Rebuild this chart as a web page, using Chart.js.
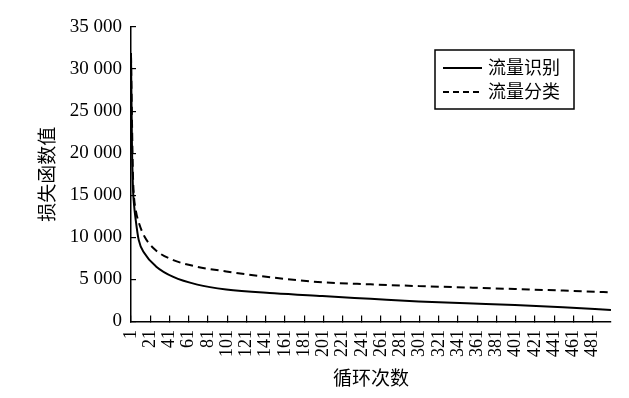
<!DOCTYPE html>
<html>
<head>
<meta charset="utf-8">
<script src="https://cdn.jsdelivr.net/npm/chart.js@4/dist/chart.umd.min.js"></script>
<style>
  html, body { margin: 0; padding: 0; background: #fff; }
  #c { display: block; }
</style>
</head>
<body>
<canvas id="c" width="629" height="398"></canvas>
<script>
const iterations = [1, 2, 3, 4, 6, 9, 15, 27, 45, 70, 100, 150, 200, 250, 300, 350, 400, 450, 500];
const lossIdentify = [31900, 21000, 16000, 14100, 12000, 9700, 8100, 6550, 5300, 4380, 3800, 3350, 3020, 2700, 2380, 2160, 1950, 1700, 1370];
const lossClassify = [31700, 24000, 17500, 15000, 13200, 11800, 10100, 8450, 7300, 6500, 5950, 5200, 4660, 4420, 4210, 4040, 3860, 3680, 3460];
const seriesNames = ["流量识别", "流量分类"];
const xTicks = [1, 21, 41, 61, 81, 101, 121, 141, 161, 181, 201, 221, 241, 261, 281, 301, 321, 341, 361, 381, 401, 421, 441, 461, 481];
const yTicks = [0, 5000, 10000, 15000, 20000, 25000, 30000, 35000];

const serif = "'Liberation Serif', 'Noto Sans CJK SC', serif";
const cjk = "'Liberation Serif', 'Noto Sans CJK SC', sans-serif";

const fmt = v => String(v).replace(/\B(?=(\d{3})+(?!\d))/g, " ");

// boxed legend, top right, like the original figure
const boxLegend = {
  id: "boxLegend",
  afterDraw(chart) {
    const ctx = chart.ctx;
    const x0 = 435, y0 = 50, w = 139, h = 59;
    ctx.save();
    ctx.strokeStyle = "#000";
    ctx.lineWidth = 1.5;
    ctx.strokeRect(x0, y0, w, h);
    chart.data.datasets.forEach((ds, i) => {
      const y = 68 + i * 24;
      ctx.beginPath();
      ctx.lineWidth = 2;
      ctx.setLineDash(i === 0 ? [] : [6, 4]);
      ctx.moveTo(443, y);
      ctx.lineTo(482, y);
      ctx.stroke();
      ctx.setLineDash([]);
      ctx.fillStyle = "#000";
      ctx.font = "18px " + cjk;
      ctx.textBaseline = "middle";
      ctx.textAlign = "left";
      ctx.fillText(ds.label, 488, y + 1);
    });
    ctx.restore();
  }
};

new Chart(document.getElementById("c"), {
  type: "line",
  data: {
    datasets: [
      {
        label: seriesNames[0],
        data: iterations.map((it, i) => ({ x: it, y: lossIdentify[i] })),
        borderColor: "#000",
        borderWidth: 2,
        pointRadius: 0,
        cubicInterpolationMode: "monotone"
      },
      {
        label: seriesNames[1],
        data: iterations.map((it, i) => ({ x: it, y: lossClassify[i] })),
        borderColor: "#000",
        borderWidth: 2,
        borderDash: [8, 5],
        pointRadius: 0,
        cubicInterpolationMode: "monotone"
      }
    ]
  },
  options: {
    responsive: false,
    animation: false,
    layout: { padding: { left: 0, right: 5, top: 27, bottom: 0 } },
    plugins: {
      legend: { display: false },
      tooltip: { enabled: false }
    },
    scales: {
      x: {
        type: "linear",
        min: 1,
        max: 500,
        afterBuildTicks: s => { s.ticks = xTicks.map(v => ({ value: v })); },
        afterFit: s => { s.height = 76.5; },
        border: { display: true, color: "#000", width: 1.5 },
        grid: { drawOnChartArea: false, color: "#000", lineWidth: 1.2, tickLength: -6 },
        ticks: {
          autoSkip: false,
          minRotation: 90,
          maxRotation: 90,
          padding: 14.5,
          color: "#000",
          font: { family: serif, size: 18 },
          callback: v => String(v)
        },
        title: {
          display: true,
          text: "循环次数",
          color: "#000",
          font: { family: cjk, size: 19 },
          padding: { top: 0, bottom: 7 }
        }
      },
      y: {
        min: 0,
        max: 35000,
        afterBuildTicks: s => { s.ticks = yTicks.map(v => ({ value: v })); },
        afterFit: s => { s.width = 131; },
        border: { display: true, color: "#000", width: 1.5 },
        grid: { drawOnChartArea: false, color: "#000", lineWidth: 1.2, tickLength: -5 },
        ticks: {
          padding: 14,
          color: "#000",
          font: { family: serif, size: 19 },
          callback: v => fmt(v)
        },
        title: {
          display: true,
          text: "损失函数值",
          color: "#000",
          font: { family: cjk, size: 19 },
          padding: { top: 38, bottom: 0 }
        }
      }
    }
  },
  plugins: [boxLegend]
});
</script>
</body>
</html>
